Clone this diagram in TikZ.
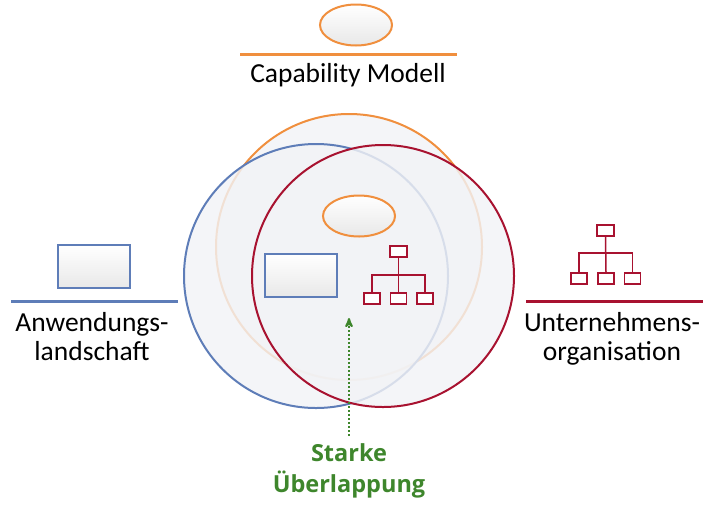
\documentclass[tikz,border=0pt]{standalone}
\usepackage{fontspec}
\setmainfont{Carlito}
\newfontfamily\overlapfont{Open Sans}
\usetikzlibrary{shapes}
\usetikzlibrary{arrows}
\usetikzlibrary{positioning}
\definecolor{capOrange}{RGB}{240,143,62}
\definecolor{appBlue}{RGB}{94,125,184}
\definecolor{orgRed}{RGB}{168,18,48}
\definecolor{overlapGreen}{RGB}{62,134,44}
\definecolor{areaFill}{RGB}{242,243,246}
\tikzset{
	big_circle/.style = {
		circle,
		inner sep=0pt,
		line width=2pt,
		fill=areaFill,
		fill opacity=0.82
	},
	icon_base/.style = {
		inner sep=0pt,
		line width=2pt,
		top color=white,
		bottom color=black!9
	},
	icon_ellipse/.style = {
		icon_base,
		ellipse,
		draw=capOrange,
		minimum width=72pt,
		minimum height=41pt
	},
	icon_rect/.style = {
		icon_base,
		rectangle,
		draw=appBlue,
		minimum width=72pt,
		minimum height=43pt
	},
	org_box/.style = {
		rectangle,
		inner sep=0pt,
		draw=orgRed,
		line width=1.5pt,
		fill=white,
		minimum width=16pt,
		minimum height=11pt
	},
	org_line/.style = {
		draw=orgRed,
		line width=1.5pt
	},
	area_line/.style = {
		line width=3pt
	},
	area_label/.style = {
		align=center,
		inner sep=0pt,
		anchor=north,
		font=\fontsize{27.5}{29}\selectfont
	},
	overlap_label/.style = {
		align=center,
		inner sep=0pt,
		text=overlapGreen,
		font=\overlapfont\bfseries\fontsize{23.5}{31}\selectfont
	}
}

\begin{document}
\begin{tikzpicture}[x=1pt,y=-1pt,>=stealth']
\useasboundingbox (0,0) rectangle (714,520);

% the three areas
\node [big_circle, draw=capOrange, minimum size=266pt] (cap_circle) at (349,247) {};
\node [big_circle, draw=appBlue, minimum size=264pt] (app_circle) at (316,276) {};
\node [big_circle, draw=orgRed, minimum size=262pt] (org_circle) at (383,276) {};

% icons inside
\node [icon_ellipse] (cap_inner) at (359,216) {};
\node [icon_rect] (app_inner) at (301,275.5) {};
\node [org_box, minimum width=17pt] (oi_top) at (398.5,251.5) {};
\node [org_box] (oi_left) at (372,298.5) {};
\node [org_box] (oi_mid) at (398.5,298.5) {};
\node [org_box] (oi_right) at (425,298.5) {};
\coordinate (oi_bar) at (398.5,275);
\draw [org_line] (oi_top.south) -- (oi_mid.north);
\draw [org_line] (oi_left.north) |- (oi_bar) -| (oi_right.north);

% capability modell
\node [icon_ellipse] (cap_icon) at (356,25) {};
\coordinate (cap_a) at (240,54);
\coordinate (cap_b) at (457,54);
\draw [area_line, capOrange] (cap_a) -- (cap_b);
\node [area_label] (cap_label) at (348,63) {Capability Modell};

% anwendungslandschaft
\node [icon_rect] (app_icon) at (94,266.5) {};
\coordinate (app_a) at (11,301);
\coordinate (app_b) at (178,301);
\draw [area_line, appBlue] (app_a) -- (app_b);
\node [area_label] (app_label) at (92,312) {Anwendungs-\\landschaft};

% unternehmensorganisation
\node [org_box, minimum width=17pt] (oo_top) at (605.5,230.5) {};
\node [org_box] (oo_left) at (579,278.5) {};
\node [org_box] (oo_mid) at (606,278.5) {};
\node [org_box] (oo_right) at (632.5,278.5) {};
\coordinate (oo_bar) at (606,253);
\draw [org_line] (oo_top.south) -- (oo_mid.north);
\draw [org_line] (oo_left.north) |- (oo_bar) -| (oo_right.north);
\coordinate (org_a) at (526,301);
\coordinate (org_b) at (703,301);
\draw [area_line, orgRed] (org_a) -- (org_b);
\node [area_label] (org_label) at (612,312) {Unternehmens-\\organisation};

% overlap
\node [overlap_label] (overlap_label) at (349,471) {Starke\\Überlappung};
\coordinate (overlap_tip) at (349,318);
\draw [->, dotted, line width=2pt, overlapGreen] ([yshift=8pt]overlap_label.north) -- (overlap_tip);
\end{tikzpicture}
\end{document}
